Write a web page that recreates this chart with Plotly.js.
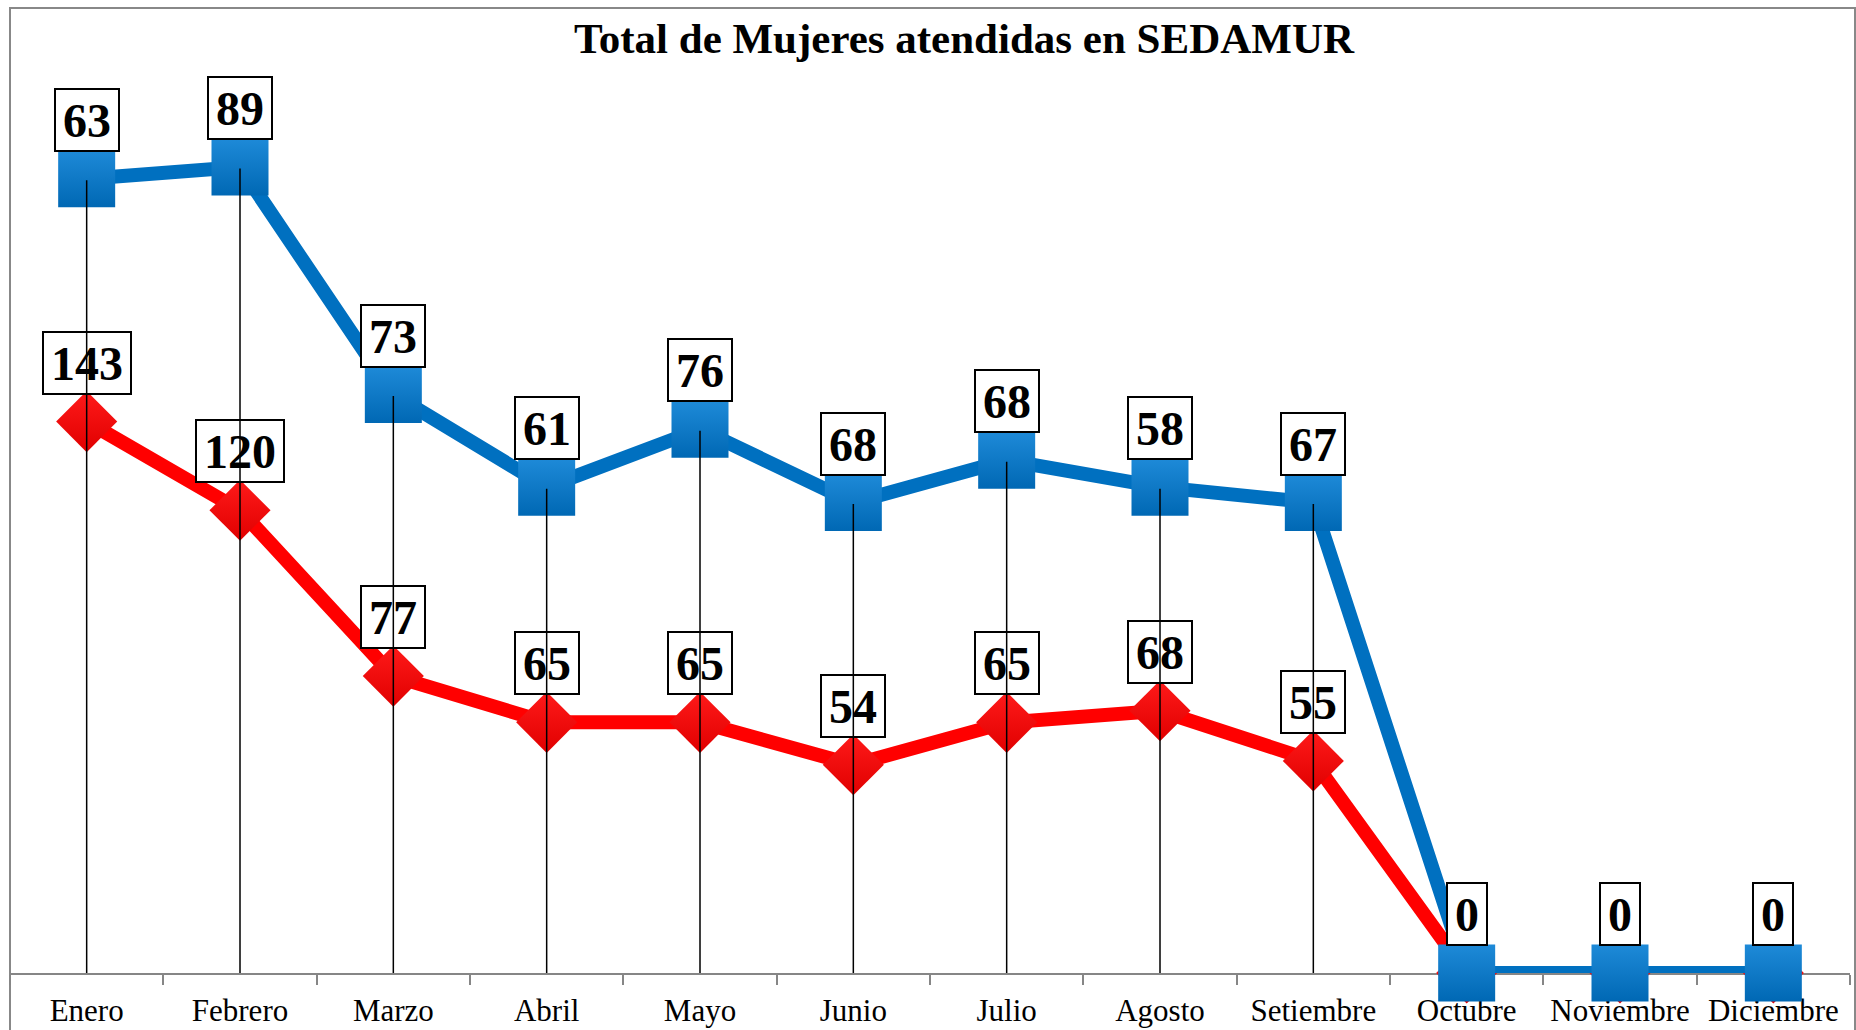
<!DOCTYPE html>
<html>
<head>
<meta charset="utf-8">
<script src="https://cdn.plot.ly/plotly-3.0.1.min.js"></script>
<style>
html,body{margin:0;padding:0;background:#fff;}
#chart{width:1856px;height:1030px;}
</style>
</head>
<body>
<div id="chart"></div>
<script>
// ---- data ----
const meses = ['Enero','Febrero','Marzo','Abril','Mayo','Junio','Julio','Agosto','Setiembre','Octubre','Noviembre','Diciembre'];
const serieRoja = [143,120,77,65,65,54,65,68,55,0,0,0];
const serieAzul = [63,89,73,61,76,68,68,58,67,0,0,0];
const titulo = 'Total de Mujeres atendidas en SEDAMUR';

// stacked line: blue sits on top of red
const apilado = serieRoja.map((v,i)=>v+serieAzul[i]);

const FONT = 'Liberation Serif, Times New Roman, serif';
const W = 1856, H = 1030;
const M = {l:10, r:6, t:9, b:57};
const plotW = W - M.l - M.r, plotH = H - M.t - M.b;

const traces = [
  {
    type:'scatter', mode:'lines+markers', name:'Serie 1',
    x: meses, y: serieRoja, cliponaxis:false,
    line:{color:'#FF0000', width:14},
    marker:{symbol:'diamond', size:47, color:'#FF1A1A', line:{width:0},
            gradient:{type:'vertical', color:'#E00000'}},
    hoverinfo:'x+y'
  },
  {
    type:'scatter', mode:'lines+markers', name:'Serie 2',
    x: meses, y: apilado, customdata: serieAzul, cliponaxis:false,
    line:{color:'#0070C0', width:14},
    marker:{symbol:'square', size:57, color:'#1E8AD8', line:{width:0},
            gradient:{type:'vertical', color:'#0068B4'}},
    hovertemplate:'%{x}: %{customdata}<extra></extra>'
  }
];

const annotations = [];
function labelBox(x, y, txt){
  const s = String(txt);
  annotations.push({
    x:x, y:y, xref:'x', yref:'y', text:'<b>'+s+'</b>', showarrow:false,
    xanchor:'center', yanchor:'bottom', yshift:27,
    font:{family:FONT, size:48, color:'#000'},
    bgcolor:'#FFFFFF', bordercolor:'#000000', borderwidth:2, borderpad:0,
    width: s.length*24 + 14, height: 60, valign:'middle', align:'center'
  });
}
meses.forEach((m,i)=>labelBox(m, serieRoja[i], serieRoja[i]));
meses.forEach((m,i)=>labelBox(m, apilado[i], serieAzul[i]));

// drop lines from top of the stack to the axis (drawn above labels, like the original)
meses.forEach((m,i)=>{
  if(apilado[i] > 0){
    annotations.push({
      x:m, y:0, xref:'x', yref:'y', ax:m, ay:apilado[i], axref:'x', ayref:'y',
      text:'', showarrow:true, arrowhead:0, arrowwidth:1.5, arrowcolor:'#000000',
      standoff:0, startstandoff:0
    });
  }
});

const layout = {
  width:W, height:H,
  margin:M,
  paper_bgcolor:'#FFFFFF', plot_bgcolor:'#FFFFFF',
  showlegend:false,
  title:{
    text:'<b>'+titulo+'</b>',
    font:{family:FONT, size:43, color:'#000'},
    x:964/W, xref:'container', xanchor:'center',
    y:1-38/H, yref:'container', yanchor:'middle'
  },
  xaxis:{
    type:'category', range:[-0.5, 11.5],
    showline:true, linecolor:'#868686', linewidth:1.5,
    ticks:'outside', tickson:'boundaries', ticklen:10, tickcolor:'#868686', tickwidth:1.5,
    tickangle:0, automargin:false, ticklabelstandoff:9,
    tickfont:{family:FONT, size:31, color:'#000'},
    showgrid:false, zeroline:false, layer:'below traces', fixedrange:true
  },
  yaxis:{
    range:[0,250], showticklabels:false, showgrid:false, zeroline:false,
    showline:false, ticks:'', fixedrange:true
  },
  shapes:[
    {type:'rect', xref:'paper', yref:'paper', layer:'below',
     x0:0, x1:(W-1-M.l)/plotW, y0:-(H+20-(H-M.b))/plotH, y1:(H-M.b-8)/plotH,
     line:{color:'#888888', width:2}, fillcolor:'rgba(0,0,0,0)'}
  ],
  annotations:annotations
};

Plotly.newPlot('chart', traces, layout, {displayModeBar:false, staticPlot:false});
</script>
</body>
</html>
